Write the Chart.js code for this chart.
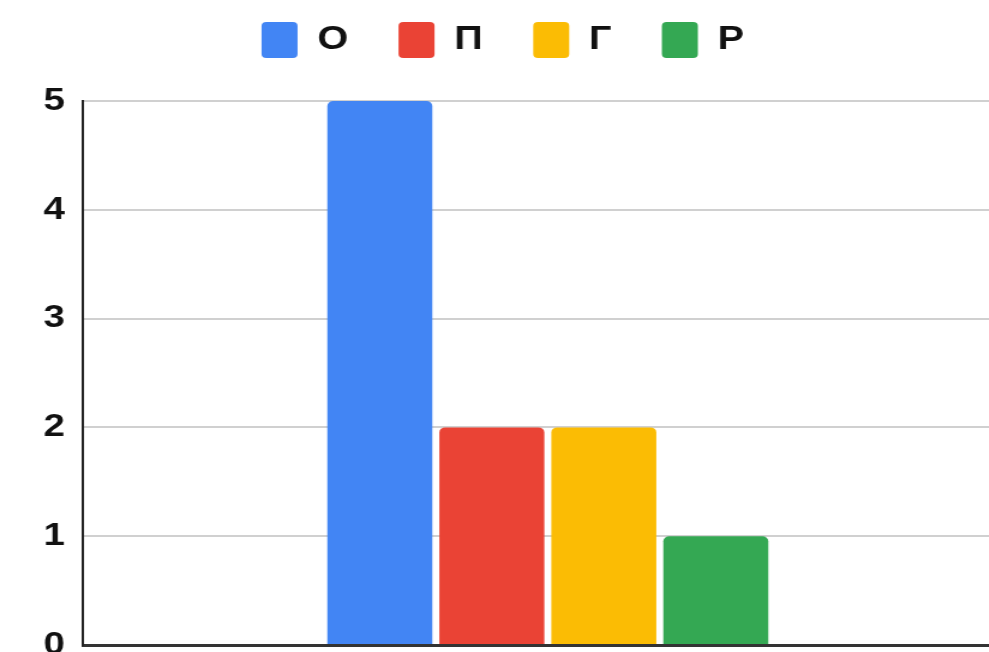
<!DOCTYPE html>
<html lang="ru">
<head>
<meta charset="utf-8">
<title>О П Г Р</title>
<script src="https://cdn.jsdelivr.net/npm/chart.js@4.4.1/dist/chart.umd.min.js"></script>
<style>
  html, body { margin: 0; padding: 0; background: #fff; overflow: hidden; width: 989px; height: 652px; }
  /* chart is laid out narrow and widened, so the bold glyphs come out broad */
  #wrap { width: 848px; height: 680px; transform: scaleX(1.2); transform-origin: 0 0; }
</style>
</head>
<body>
<div id="wrap"><canvas id="chart"></canvas></div>
<script>
// ===== DATA =====
const categories = [''];
const seriesNames = ['О', 'П', 'Г', 'Р'];
const seriesValues = [5, 2, 2, 1];
const seriesColors = ['#4285F4', '#EA4335', '#FBBC04', '#34A853'];
const yTicks = [0, 1, 2, 3, 4, 5];

const FONT = '"Liberation Sans", Arial, sans-serif';
Chart.defaults.font.family = FONT;
Chart.defaults.color = '#111';

/**
 * LEGEND GAP (extra space between legend and plot)
 */
const legendGap = {
  id: 'legendGap',
  beforeInit(chart) {
    const fit = chart.legend.fit;
    chart.legend.fit = function () {
      fit.call(this);
      this.height += 33;
    };
  }
};

/**
 * BUILD CHART
 */
function drawChart() {
  const datasets = seriesNames.map((name, i) => ({
    label: name,
    data: [seriesValues[i]],
    backgroundColor: seriesColors[i],
    borderWidth: 0,
    borderRadius: 5,
    barPercentage: 0.9375,
    categoryPercentage: 0.4817
  }));

  new Chart(document.getElementById('chart'), {
    type: 'bar',
    data: { labels: categories, datasets: datasets },
    plugins: [legendGap],
    options: {
      responsive: true,
      maintainAspectRatio: false,
      animation: false,
      layout: { padding: { top: -20, left: -6, right: 4, bottom: 35 } },
      plugins: {
        tooltip: { enabled: false },
        legend: {
          position: 'top',
          labels: {
            boxWidth: 30,
            boxHeight: 36,
            padding: 42,
            useBorderRadius: true,
            borderRadius: 4,
            color: '#111',
            font: { size: 33, weight: 'bold' }
          }
        }
      },
      scales: {
        x: {
          ticks: { display: false },
          grid: { display: false, drawTicks: false },
          border: { display: true, color: '#333', width: 3 }
        },
        y: {
          min: yTicks[0],
          max: yTicks[yTicks.length - 1],
          afterBuildTicks: (scale) => { scale.ticks = yTicks.map(v => ({ value: v })); },
          afterFit: (scale) => { scale.width = 75; },
          ticks: {
            padding: 15,
            color: '#111',
            font: { size: 32, weight: 'bold' }
          },
          grid: { color: '#d0d0d0', lineWidth: 2, drawTicks: false },
          border: { display: true, color: '#222', width: 2 }
        }
      }
    }
  });
}

drawChart();
</script>
</body>
</html>
